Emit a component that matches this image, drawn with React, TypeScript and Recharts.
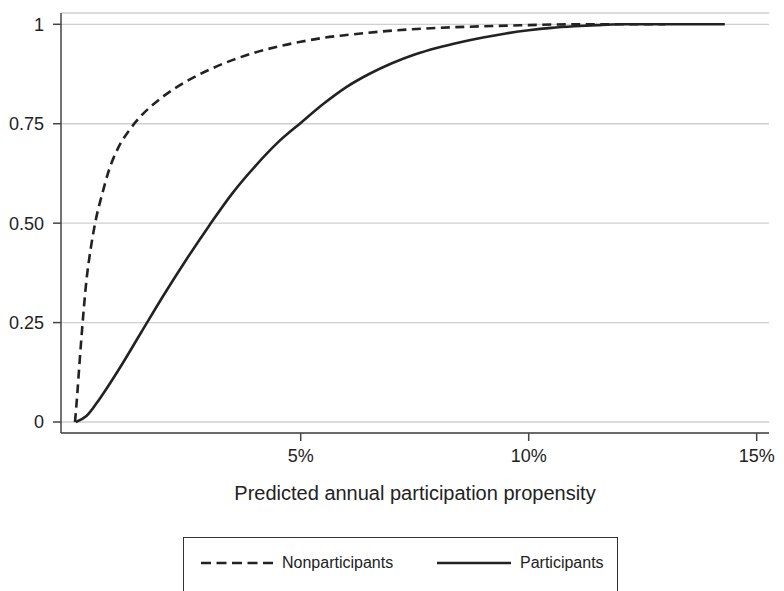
import { LineChart, Line, XAxis, YAxis, CartesianGrid, Legend, Label } from "recharts";

// cumulative share by predicted propensity (%)
const nonX = [0.05, 0.1, 0.15, 0.2, 0.3, 0.4, 0.5, 0.65, 0.8, 1.0, 1.25, 1.5, 1.75, 2.0, 2.5, 3.0, 3.5, 4.0, 4.5, 5.0, 5.5, 6.0, 7.0, 8.0, 9.0, 10.0, 11.0, 13.0];
const nonY = [0, 0.07, 0.15, 0.225, 0.355, 0.44, 0.505, 0.575, 0.635, 0.69, 0.735, 0.77, 0.797, 0.82, 0.857, 0.886, 0.91, 0.929, 0.944, 0.956, 0.966, 0.973, 0.984, 0.991, 0.995, 0.998, 1.0, 1.0];

const partX = [0.07, 0.3, 0.6, 1.0, 1.5, 2.0, 2.5, 3.0, 3.5, 4.0, 4.5, 5.0, 5.5, 6.0, 6.5, 7.0, 7.5, 8.0, 8.5, 9.0, 9.5, 10.0, 10.5, 11.0, 11.5, 12.0, 14.3];
const partY = [0, 0.015, 0.06, 0.13, 0.225, 0.32, 0.41, 0.495, 0.575, 0.643, 0.703, 0.752, 0.8, 0.842, 0.875, 0.902, 0.924, 0.941, 0.955, 0.967, 0.977, 0.985, 0.991, 0.995, 0.998, 1.0, 1.0];

const xTicks = [5, 10, 15];
const yTicks = [0, 0.25, 0.5, 0.75, 1];

const nonData = nonX.map((x, i) => ({ x, y: nonY[i] }));
const partData = partX.map((x, i) => ({ x, y: partY[i] }));

const FONT = "'Liberation Sans', Arial, Helvetica, sans-serif";
const INK = "#222";

function fmtY(v: number) {
  if (v === 0) return "0";
  if (v === 1) return "1";
  return v.toFixed(2);
}

function LegendBox() {
  return (
    <div
      style={{
        position: "relative",
        width: 435,
        height: 70,
        border: "1.5px solid #333",
        boxSizing: "border-box",
        fontFamily: FONT,
        fontSize: 16,
        color: INK,
      }}
    >
      <svg style={{ position: "absolute", left: 16, top: 19 }} width={80} height={12}>
        <line x1={1} y1={6} x2={74} y2={6} stroke={INK} strokeWidth={2.5} strokeDasharray="10 5.5" />
      </svg>
      <span style={{ position: "absolute", left: 98, top: 16 }}>Nonparticipants</span>
      <svg style={{ position: "absolute", left: 252, top: 19 }} width={80} height={12}>
        <line x1={1} y1={6} x2={75} y2={6} stroke={INK} strokeWidth={2.5} />
      </svg>
      <span style={{ position: "absolute", left: 336, top: 16 }}>Participants</span>
    </div>
  );
}

export default function App() {
  return (
    <div
      style={{
        position: "absolute",
        left: 0,
        top: 0,
        width: 784,
        height: 591,
        overflow: "hidden",
        background: "#fff",
        fontFamily: FONT,
      }}
    >
      <LineChart width={784} height={591} margin={{ top: 13, right: 15, bottom: 128, left: 0 }}>
        <CartesianGrid vertical={false} stroke="#cfcfcf" strokeWidth={1.3} />
        <XAxis
          type="number"
          dataKey="x"
          domain={[-0.257, 15.27]}
          allowDataOverflow
          ticks={xTicks}
          tickFormatter={(v: number) => `${v}%`}
          height={30}
          stroke="#444"
          strokeWidth={1.5}
          tickSize={8}
          tickMargin={8}
          tick={{ fill: INK, fontSize: 18, fontFamily: FONT }}
        >
          <Label
            value="Predicted annual participation propensity"
            position="bottom"
            offset={23}
            style={{ fill: INK, fontSize: 20, fontFamily: FONT }}
          />
        </XAxis>
        <YAxis
          type="number"
          domain={[-0.0276, 1.0284]}
          allowDataOverflow
          ticks={yTicks}
          tickFormatter={fmtY}
          width={61}
          stroke="#444"
          strokeWidth={1.5}
          tickSize={8}
          tickMargin={9}
          tick={{ fill: INK, fontSize: 18, fontFamily: FONT }}
        />
        <Legend
          verticalAlign="middle"
          align="center"
          layout="horizontal"
          wrapperStyle={{ left: 183, top: 537, width: 435, height: 70 }}
          content={() => <LegendBox />}
        />
        <Line
          data={nonData}
          dataKey="y"
          name="Nonparticipants"
          type="monotone"
          stroke={INK}
          strokeWidth={2.6}
          strokeDasharray="9 5.5"
          dot={false}
          isAnimationActive={false}
        />
        <Line
          data={partData}
          dataKey="y"
          name="Participants"
          type="monotone"
          stroke={INK}
          strokeWidth={2.6}
          dot={false}
          isAnimationActive={false}
        />
      </LineChart>
    </div>
  );
}
